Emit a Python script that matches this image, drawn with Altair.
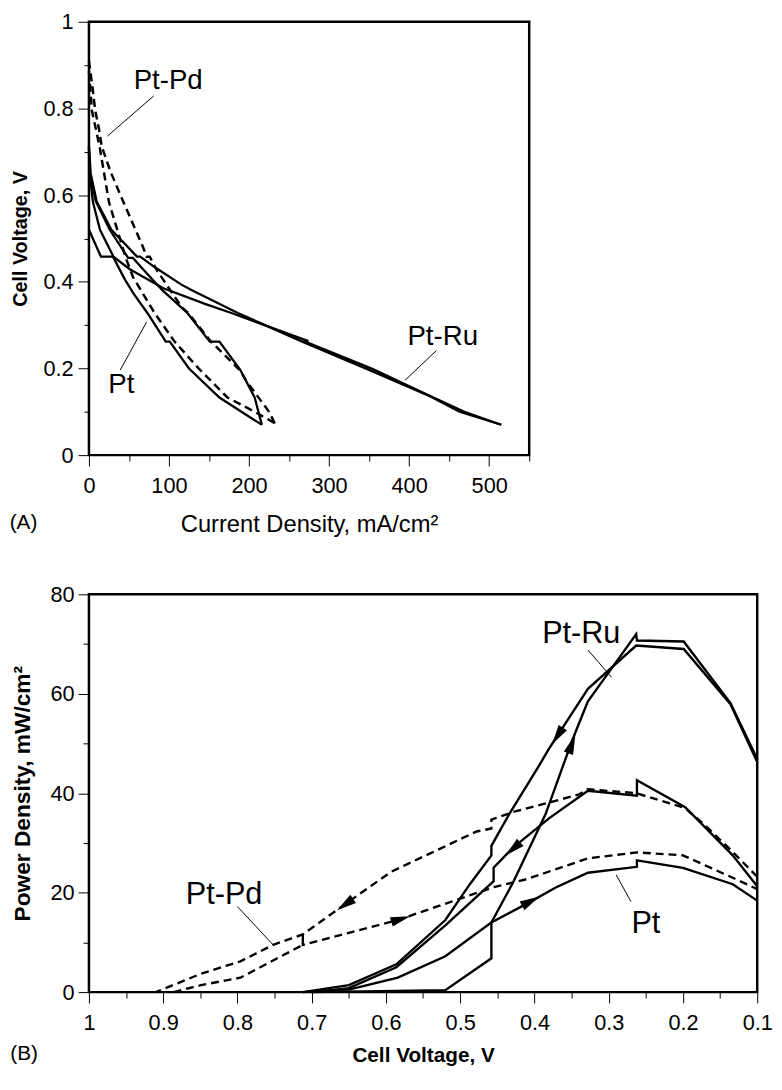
import math
import altair as alt
import pandas as pd

FONT = "Liberation Sans"

# ---------------- Panel A: cell voltage (V) vs current density (mA/cm2) ----------------
A_PT_FWD_I = [0, 15, 30, 45, 56, 73, 96, 101, 125, 163, 216]
A_PT_FWD_V = [0.52, 0.458, 0.458, 0.405, 0.372, 0.328, 0.262, 0.262, 0.2, 0.133, 0.07]
A_PT_BWD_I = [0, 1.2, 8.5, 26, 49, 55, 67, 92, 123, 151, 163, 189, 207, 216]
A_PT_BWD_V = [0.70, 0.65, 0.586, 0.52, 0.455, 0.455, 0.43, 0.38, 0.328, 0.262, 0.262, 0.197, 0.133, 0.07]
A_RU_FWD_I = [0, 0.8, 5, 13.8, 30.6, 51, 93, 145, 178, 274, 270, 354, 427, 469, 515]
A_RU_FWD_V = [0.712, 0.65, 0.584, 0.52, 0.458, 0.429, 0.385, 0.349, 0.328, 0.263, 0.262, 0.199, 0.136, 0.1, 0.07]
A_RU_BWD_I = [0, 2.2, 9.6, 28, 45, 60, 64, 82, 115, 128, 186, 265, 347, 426, 463, 515]
A_RU_BWD_V = [0.712, 0.65, 0.586, 0.52, 0.487, 0.458, 0.458, 0.434, 0.394, 0.381, 0.328, 0.263, 0.199, 0.136, 0.1, 0.07]
A_PD_BWD_I = [0, 4.4, 7.8, 12.6, 16, 27, 41, 68, 72, 76, 84, 116, 124, 152, 188, 197, 211, 225, 233]
A_PD_BWD_V = [0.91, 0.849, 0.796, 0.752, 0.712, 0.654, 0.593, 0.478, 0.458, 0.458, 0.429, 0.341, 0.328, 0.263, 0.197, 0.17, 0.135, 0.1, 0.07]
A_PD_FWD_I = [0, 1.6, 3.6, 13.3, 25, 46, 55, 82, 107, 137, 173, 207, 236]
A_PD_FWD_V = [0.886, 0.849, 0.796, 0.712, 0.584, 0.455, 0.411, 0.328, 0.262, 0.2, 0.133, 0.1, 0.07]

A_LBL_TEXT = ["Pt-Pd", "Pt-Ru", "Pt"]
A_LBL_I = [99, 442, 40.5]
A_LBL_V = [0.863, 0.273, 0.162]
A_PTR_I1 = [81, 434, 39]
A_PTR_V1 = [0.829, 0.241, 0.196]
A_PTR_I2 = [23, 395, 72]
A_PTR_V2 = [0.736, 0.173, 0.307]
A_TAG = ["(A)"]
A_TAG_I = [-99]
A_TAG_V = [-0.157]

# ---------------- Panel B: power density (mW/cm2) vs cell voltage (V) ----------------
B_RU_FWD_V = [0.712, 0.65, 0.584, 0.52, 0.458, 0.429, 0.385, 0.349, 0.328, 0.263, 0.262, 0.199, 0.136, 0.1]
B_RU_FWD_P = [0, 0.5, 2.9, 7.2, 14, 22, 35.8, 50.7, 58.5, 72, 70.7, 70.5, 58.1, 46.9]
B_RU_BWD_V = [0.1, 0.136, 0.199, 0.263, 0.328, 0.381, 0.394, 0.434, 0.458, 0.458, 0.487, 0.52, 0.586, 0.65, 0.712]
B_RU_BWD_P = [46.3, 57.9, 69, 69.7, 61, 48.8, 45.5, 35.8, 29.4, 27.5, 21.7, 14.5, 5.6, 1.4, 0]
B_PT_FWD_V = [0.7, 0.52, 0.458, 0.458, 0.405, 0.372, 0.328, 0.262, 0.262, 0.2, 0.133, 0.1]
B_PT_FWD_P = [0, 0.4, 6.8, 14, 18.2, 21, 24, 25.2, 26.5, 25, 21.7, 18.4]
B_PT_BWD_V = [0.1, 0.133, 0.197, 0.262, 0.262, 0.328, 0.38, 0.43, 0.455, 0.455, 0.52, 0.586, 0.65, 0.70]
B_PT_BWD_P = [21.3, 27.5, 37.2, 42.6, 39.5, 40.5, 35, 28.9, 25, 22.3, 13.4, 5, 0.8, 0]
B_PD_BWD_V = [0.1, 0.135, 0.17, 0.197, 0.263, 0.328, 0.341, 0.429, 0.458, 0.458, 0.478, 0.593, 0.654, 0.712, 0.752, 0.796, 0.849, 0.91]
B_PD_BWD_P = [23.2, 28.5, 33.5, 37, 40, 40.8, 39.7, 36.2, 34.7, 32.9, 32.3, 24.2, 17.8, 11.6, 9.5, 6.2, 3.7, 0]
B_PD_FWD_V = [0.886, 0.849, 0.796, 0.712, 0.712, 0.712, 0.584, 0.455, 0.411, 0.328, 0.262, 0.2, 0.133, 0.1]
B_PD_FWD_P = [0, 1.4, 2.9, 9.5, 11.6, 9.5, 14.5, 21.1, 22.7, 26.9, 28.1, 27.5, 23, 20.7]

B_LBL_TEXT = ["Pt-Ru", "Pt-Pd", "Pt"]
B_LBL_V = [0.337, 0.818, 0.25]
B_LBL_P = [71.9, 19.6, 13.6]
B_PTR_V1 = [0.328, 0.80, 0.29]
B_PTR_P1 = [68.8, 17.2, 23.6]
B_PTR_V2 = [0.296, 0.752, 0.27]
B_PTR_P2 = [63.3, 9.5, 18.2]
B_TAG = ["(B)"]
B_TAG_V = [1.106]
B_TAG_P = [-12.5]

# arrowheads: position and the segment whose direction they follow
B_ARW_V = [0.369, 0.3496, 0.429, 0.405, 0.655, 0.58]
B_ARW_P = [51.5, 49.9, 28.8, 18.3, 17.6, 14.7]
B_ARW_FROM_V = [0.328, 0.385, 0.38, 0.458, 0.593, 0.712]
B_ARW_FROM_P = [61, 35.8, 35, 14, 24.2, 9.5]
B_ARW_TO_V = [0.394, 0.328, 0.455, 0.372, 0.712, 0.455]
B_ARW_TO_P = [45.5, 58.5, 25, 21, 11.6, 21.1]

WA, HA = 446, 439
WB, HB = 677, 403


def curve_frame(curves):
    rows = []
    for name, xs, ys in curves:
        for k, (x, y) in enumerate(zip(xs, ys)):
            rows.append({"curve": name, "k": k, "x": x, "y": y})
    return pd.DataFrame(rows)


def make_axis(values, major, title, label_size, title_size, title_weight,
              label_pad, title_pad, minor_len, fmt):
    return alt.Axis(
        values=values,
        title=title,
        labelExpr=f"({major}) ? format(datum.value, '{fmt}') : ''",
        tickDash={"condition": {"test": f"!({major})", "value": [minor_len, 60]},
                  "value": [60, 0]},
        tickSize=11, tickWidth=1, tickColor="black",
        labelFont=FONT, labelFontSize=label_size, labelColor="black",
        labelPadding=label_pad, labelFlush=False, labelOverlap=False,
        titleFont=FONT, titleFontSize=title_size, titleFontWeight=title_weight,
        titleColor="black", titlePadding=title_pad,
        domain=False, grid=False,
    )


# ---------------- Panel A ----------------
ax_ax = make_axis(list(range(0, 551, 50)), "datum.value % 100 == 0",
                  "Current Density, mA/cm²", 22, 24, "normal", 10, 16, 6, "d")
ax_ay = make_axis([round(0.1 * i, 1) for i in range(11)], "round(datum.value * 10) % 2 == 0",
                  "Cell Voltage, V", 22, 20, "bold", 5, 13, 5, "~g")
xA = alt.X("x:Q", scale=alt.Scale(domain=[0, 550], nice=False, zero=False), axis=ax_ax)
yA = alt.Y("y:Q", scale=alt.Scale(domain=[0, 1], nice=False, zero=False), axis=ax_ay)

solidA = alt.Chart(curve_frame([
    ("pt_fwd", A_PT_FWD_I, A_PT_FWD_V), ("pt_bwd", A_PT_BWD_I, A_PT_BWD_V),
    ("ru_fwd", A_RU_FWD_I, A_RU_FWD_V), ("ru_bwd", A_RU_BWD_I, A_RU_BWD_V),
])).mark_line(color="black", strokeWidth=2.3).encode(x=xA, y=yA, detail="curve:N", order="k:Q")
dashA = alt.Chart(curve_frame([
    ("pd_fwd", A_PD_FWD_I, A_PD_FWD_V), ("pd_bwd", A_PD_BWD_I, A_PD_BWD_V),
])).mark_line(color="black", strokeWidth=2.5, strokeDash=[8, 5]).encode(
    x=xA, y=yA, detail="curve:N", order="k:Q")
ptrA = alt.Chart(pd.DataFrame({"x": A_PTR_I1, "y": A_PTR_V1, "x2": A_PTR_I2, "y2": A_PTR_V2})).mark_rule(
    color="black", strokeWidth=1).encode(x=xA, y=yA, x2="x2:Q", y2="y2:Q")
lblA = alt.Chart(pd.DataFrame({"x": A_LBL_I, "y": A_LBL_V, "t": A_LBL_TEXT})).mark_text(
    font=FONT, fontSize=28, color="black", align="center", baseline="middle").encode(x=xA, y=yA, text="t:N")
tagA = alt.Chart(pd.DataFrame({"x": A_TAG_I, "y": A_TAG_V, "t": A_TAG})).mark_text(
    font=FONT, fontSize=21, color="black", align="left", baseline="middle").encode(x=xA, y=yA, text="t:N")
panel_a = alt.layer(solidA, dashA, ptrA, lblA, tagA).properties(width=WA, height=HA)

# ---------------- Panel B ----------------
ax_bx = make_axis([round(0.1 + 0.05 * i, 2) for i in range(19)], "round(datum.value * 100) % 10 == 0",
                  "Cell Voltage, V", 22, 21, "bold", 10, 11, 6, "~g")
ax_by = make_axis(list(range(0, 81, 10)), "datum.value % 20 == 0",
                  "Power Density, mW/cm²", 22, 23, "bold", 4, 16, 6, "d")
xB = alt.X("x:Q", scale=alt.Scale(domain=[0.1, 1], reverse=True, nice=False, zero=False), axis=ax_bx)
yB = alt.Y("y:Q", scale=alt.Scale(domain=[0, 80], nice=False, zero=False), axis=ax_by)

solidB = alt.Chart(curve_frame([
    ("ru_fwd", B_RU_FWD_V, B_RU_FWD_P), ("ru_bwd", B_RU_BWD_V, B_RU_BWD_P),
    ("pt_fwd", B_PT_FWD_V, B_PT_FWD_P), ("pt_bwd", B_PT_BWD_V, B_PT_BWD_P),
])).mark_line(color="black", strokeWidth=2.4).encode(x=xB, y=yB, detail="curve:N", order="k:Q")
dashB = alt.Chart(curve_frame([
    ("pd_fwd", B_PD_FWD_V, B_PD_FWD_P), ("pd_bwd", B_PD_BWD_V, B_PD_BWD_P),
])).mark_line(color="black", strokeWidth=2.4, strokeDash=[8, 5]).encode(
    x=xB, y=yB, detail="curve:N", order="k:Q")
ptrB = alt.Chart(pd.DataFrame({"x": B_PTR_V1, "y": B_PTR_P1, "x2": B_PTR_V2, "y2": B_PTR_P2})).mark_rule(
    color="black", strokeWidth=1).encode(x=xB, y=yB, x2="x2:Q", y2="y2:Q")
lblB = alt.Chart(pd.DataFrame({"x": B_LBL_V, "y": B_LBL_P, "t": B_LBL_TEXT})).mark_text(
    font=FONT, fontSize=31, color="black", align="center", baseline="middle").encode(x=xB, y=yB, text="t:N")
tagB = alt.Chart(pd.DataFrame({"x": B_TAG_V, "y": B_TAG_P, "t": B_TAG})).mark_text(
    font=FONT, fontSize=21, color="black", align="left", baseline="middle").encode(x=xB, y=yB, text="t:N")

# arrow direction in pixel space (x axis reversed, y up)
angles = []
for v0, p0, v1, p1 in zip(B_ARW_FROM_V, B_ARW_FROM_P, B_ARW_TO_V, B_ARW_TO_P):
    dx = -(v1 - v0) * WB / 0.9
    dy = -(p1 - p0) * HB / 80.0
    angles.append(math.degrees(math.atan2(dx, -dy)) % 360)
arwB = alt.Chart(pd.DataFrame({"x": B_ARW_V, "y": B_ARW_P, "ang": angles})).mark_point(
    shape="M0,-1L0.5,1L-0.5,1Z", filled=True, color="black", opacity=1, size=400, strokeWidth=0
).encode(x=xB, y=yB, angle=alt.Angle("ang:Q", scale=None))

panel_b = alt.layer(solidB, dashB, ptrB, lblB, tagB, arwB).properties(width=WB, height=HB)

chart = alt.vconcat(panel_a, panel_b, spacing=44).properties(
    padding={"left": 0, "top": -6, "right": 0, "bottom": 0}
).configure(
    background="white", font=FONT,
    view=alt.ViewConfig(stroke="black", strokeWidth=2.5),
)

chart.save("out.html", embed_options={"renderer": "svg", "actions": False})
